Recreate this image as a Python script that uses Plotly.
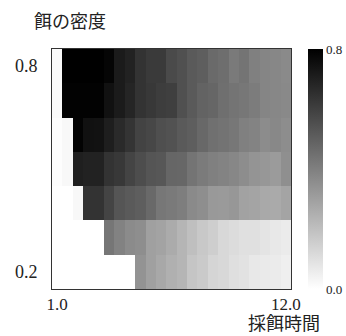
import plotly.graph_objects as go

# Foraging time (x, cell centres) and food density (y, cell centres)
forage_time = [1.0, 1.5, 2.0, 2.5, 3.0, 3.5, 4.0, 4.5, 5.0, 5.5, 6.0, 6.5,
               7.0, 7.5, 8.0, 8.5, 9.0, 9.5, 10.0, 10.5, 11.0, 11.5, 12.0]
food_density = [0.2, 0.3, 0.4, 0.5, 0.6, 0.7, 0.8]

row_02 = [0, 0, 0, 0, 0, 0, 0, 0, 0.339, 0.298, 0.273, 0.248, 0.232, 0.182,
          0.166, 0.132, 0.122, 0.100, 0.091, 0.072, 0.066, 0.063, 0.050]
row_03 = [0, 0, 0, 0, 0, 0.430, 0.392, 0.364, 0.355, 0.298, 0.289, 0.264,
          0.232, 0.201, 0.173, 0.154, 0.122, 0.110, 0.097, 0.097, 0.085, 0.072, 0.063]
row_04 = [0, 0, 0.022, 0.640, 0.640, 0.587, 0.533, 0.518, 0.505, 0.471, 0.427,
          0.417, 0.405, 0.367, 0.355, 0.320, 0.317, 0.326, 0.292, 0.285, 0.270, 0.267, 0.285]
row_05 = [0.006, 0.022, 0.703, 0.693, 0.693, 0.640, 0.624, 0.587, 0.558, 0.533,
          0.527, 0.480, 0.477, 0.436, 0.414, 0.398, 0.389, 0.376, 0.358, 0.336, 0.326, 0.314, 0.351]
row_06 = [0.006, 0.022, 0.791, 0.747, 0.744, 0.706, 0.668, 0.637, 0.590, 0.577,
          0.552, 0.543, 0.518, 0.505, 0.474, 0.449, 0.439, 0.427, 0.398, 0.389, 0.361, 0.373, 0.358]
row_07 = [0.016, 0.794, 0.794, 0.794, 0.794, 0.747, 0.715, 0.684, 0.640, 0.624,
          0.609, 0.602, 0.549, 0.518, 0.489, 0.480, 0.452, 0.436, 0.427, 0.411, 0.383, 0.376, 0.370]
row_08 = [0.016, 0.800, 0.800, 0.800, 0.800, 0.784, 0.715, 0.693, 0.640, 0.618,
          0.618, 0.568, 0.549, 0.518, 0.505, 0.467, 0.455, 0.417, 0.436, 0.398, 0.383, 0.376, 0.367]

x_tick_vals = [1.0, 12.0]
x_tick_text = ["1.0", "12.0"]
y_tick_vals = [0.2, 0.8]
y_tick_text = ["0.2", "0.8"]
cbar_tick_vals = [0.0, 0.8]
cbar_tick_text = ["0.0", "0.8"]

z = [row_02, row_03, row_04, row_05, row_06, row_07, row_08]

FONT = "Liberation Serif, Times New Roman, Noto Sans CJK JP, serif"

fig = go.Figure(go.Heatmap(
    x=forage_time, y=food_density, z=z,
    zmin=0, zmax=0.8,
    colorscale=[[0, "#ffffff"], [1, "#000000"]],
    colorbar=dict(
        x=1.071, xanchor="left", xpad=0,
        y=0, yanchor="bottom", len=1, lenmode="fraction",
        thickness=15, outlinewidth=0,
        tickvals=cbar_tick_vals, ticktext=cbar_tick_text,
        ticks="", tickfont=dict(size=13, family=FONT, color="#222"),
        ypad=0,
    ),
))

fig.update_xaxes(range=[0.75, 12.25], tickvals=x_tick_vals, ticktext=x_tick_text,
                 showgrid=False, zeroline=False, ticks="",
                 showline=True, linecolor="#333", linewidth=1, mirror=True,
                 tickfont=dict(size=17, family=FONT, color="#222"))
fig.update_yaxes(range=[0.15, 0.85], tickvals=y_tick_vals, ticktext=y_tick_text,
                 showgrid=False, zeroline=False,
                 ticks="outside", ticklen=10, tickcolor="rgba(0,0,0,0)",
                 showline=True, linecolor="#333", linewidth=1, mirror=True,
                 tickfont=dict(size=18, family=FONT, color="#222"))

fig.update_layout(
    width=346, height=336,
    margin=dict(l=52, r=55, t=49, b=47, autoexpand=False),
    paper_bgcolor="white", plot_bgcolor="white",
    font=dict(family=FONT, color="#222"),
    annotations=[
        dict(text="餌の密度", xref="paper", yref="paper", x=-0.084, y=1.0,
             xanchor="left", yanchor="middle", yshift=27, showarrow=False,
             font=dict(size=18, family=FONT, color="#222")),
        dict(text="採餌時間", xref="paper", yref="paper", x=1.13, y=0,
             xanchor="right", yanchor="middle", yshift=-35, showarrow=False,
             font=dict(size=18, family=FONT, color="#222")),
    ],
)

fig.write_html("out.html", config={"displayModeBar": False},
               post_script="document.body.style.margin='0';")
